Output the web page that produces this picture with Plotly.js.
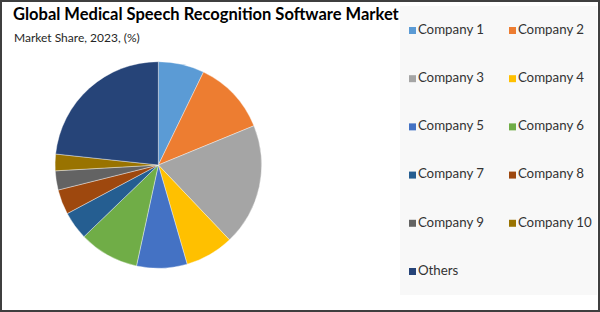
<!DOCTYPE html>
<html>
<head>
<meta charset="utf-8">
<script src="https://cdn.plot.ly/plotly-3.0.1.min.js"></script>
<style>
  html, body { margin: 0; padding: 0; background: #ffffff; }
  #chart { width: 600px; height: 312px; }
</style>
</head>
<body>
<div id="chart"></div>
<script>
// ---- data ----
var categories = ["Company 1", "Company 2", "Company 3", "Company 4", "Company 5",
                  "Company 6", "Company 7", "Company 8", "Company 9", "Company 10", "Others"];
var shares = [7.2, 11.6, 19.1, 7.6, 7.9, 9.4, 4.4, 3.9, 3.0, 2.6, 23.3];
var titleText = "Global Medical Speech Recognition Software Market";
var subtitleText = "Market Share, 2023, (%)";

// ---- styles ----
var sliceColors = ["#5B9BD5", "#ED7D31", "#A5A5A5", "#FFC000", "#4472C4",
                   "#70AD47", "#255E91", "#9E480E", "#636363", "#997300", "#264478"];
var W = 600, H = 312;
var FONT = "Lato, 'Open Sans', sans-serif";

// legend grid (2 columns) positions derived from category order
var legendCol = categories.map(function (c, i) { return i % 2; });
var legendRow = categories.map(function (c, i) { return Math.floor(i / 2); });

var pieTrace = {
  type: "pie",
  labels: categories,
  values: shares,
  sort: false,
  direction: "clockwise",
  rotation: 0,
  textinfo: "none",
  hoverinfo: "label+percent",
  showlegend: false,
  marker: { colors: sliceColors, line: { color: "rgba(255,255,255,0.55)", width: 0.7 } },
  domain: { x: [55 / W, 261.7 / W], y: [1 - 268.3 / H, 1 - 61.7 / H] }
};

var legendTrace = {
  type: "scatter",
  mode: "markers+text",
  x: legendCol,
  y: legendRow,
  text: categories,
  textposition: "middle right",
  cliponaxis: false,
  hoverinfo: "skip",
  showlegend: false,
  marker: { symbol: "square", size: 7, color: sliceColors },
  textfont: { family: FONT, size: 13.3, color: "#333333" }
};

var layout = {
  width: W,
  height: H,
  margin: { l: 0, r: 0, t: 0, b: 0 },
  paper_bgcolor: "#ffffff",
  plot_bgcolor: "#F8F8F8",
  showlegend: false,
  title: {
    text: titleText,
    font: { family: FONT, size: 16.5, weight: "bold", color: "#000000" },
    x: 13 / W, xanchor: "left", xref: "paper",
    y: 1 - 8 / H, yanchor: "top", yref: "container",
    pad: { t: 0, b: 0, l: 0, r: 0 }
  },
  annotations: [{
    text: subtitleText,
    xref: "paper", yref: "paper",
    x: 12 / W, xanchor: "left",
    y: 1 - 28 / H, yanchor: "top",
    showarrow: false,
    font: { family: FONT, size: 12, color: "#262626" }
  }],
  xaxis: {
    domain: [400 / W, 597 / W],
    range: [-0.125, 1.845],
    showgrid: false, zeroline: false, showticklabels: false, ticks: "", showline: false,
    fixedrange: true
  },
  yaxis: {
    domain: [1 - 295 / H, 1 - 6 / H],
    range: [5.488, -0.508],
    showgrid: false, zeroline: false, showticklabels: false, ticks: "", showline: false,
    fixedrange: true
  },
  shapes: [{
    type: "rect", xref: "paper", yref: "paper",
    x0: 1 / W, x1: 1 - 1 / W, y0: 1 / H, y1: 1 - 1 / H,
    line: { color: "#3F3F3F", width: 2 },
    fillcolor: "rgba(0,0,0,0)",
    layer: "above"
  }]
};

Plotly.newPlot("chart", [pieTrace, legendTrace], layout, { displayModeBar: false, staticPlot: true });
</script>
</body>
</html>
